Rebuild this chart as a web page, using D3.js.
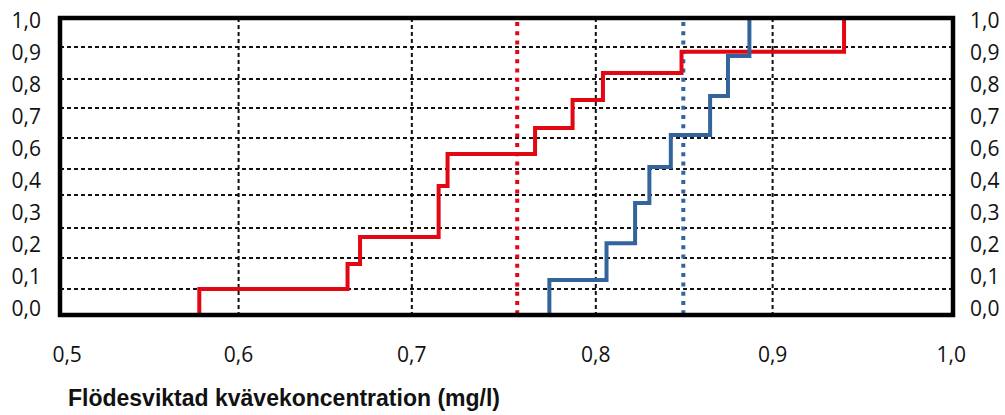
<!DOCTYPE html>
<html>
<head>
<meta charset="utf-8">
<script src="https://cdn.jsdelivr.net/npm/d3@7"></script>
<style>
  body { margin: 0; background: #fff; }
  .tick-label { font-family: "Open Sans", "Noto Sans", sans-serif; font-size: 21px; fill: #111; }
  .title { font-family: "Liberation Sans", Arial, sans-serif; font-size: 23px; font-weight: bold; fill: #111; }
</style>
</head>
<body>
<svg id="chart" width="1005" height="415"></svg>
<script>
// red step series (cumulative share at each concentration)
var redX = [0.578, 0.661, 0.668, 0.712, 0.717, 0.766, 0.787, 0.804, 0.848, 0.939];
var redY = [0.0875, 0.172, 0.263, 0.434, 0.542, 0.630, 0.724, 0.815, 0.886, 1.0];

// blue step series
var blueX = [0.774, 0.806, 0.822, 0.830, 0.842, 0.864, 0.874, 0.886];
var blueY = [0.118, 0.242, 0.377, 0.498, 0.606, 0.737, 0.872, 1.0];

// mean lines (dotted)
var redMean = 0.756;
var blueMean = 0.849;

// grid positions as drawn in the original
var gridX = [0.6, 0.697, 0.8, 0.899];
var gridY = [0.0875, 0.192, 0.293, 0.404, 0.492, 0.596, 0.697, 0.795, 0.902];

// tick labels
var xTickVals = [0.504, 0.6, 0.697, 0.8, 0.899, 0.999];
var xTickLabels = ["0,5", "0,6", "0,7", "0,8", "0,9", "1,0"];
var yTickLabels = ["0,0", "0,1", "0,2", "0,3", "0,4", "0,6", "0,7", "0,8", "0,9", "1,0"];

var xTitle = "Flödesviktad kvävekoncentration (mg/l)";

var svg = d3.select("#chart");

var x = d3.scaleLinear()
    .domain([0.5, 1.0])
    .range([60, 953]);

var y = d3.scaleLinear()
    .domain([0, 1])
    .range([315, 18]);

// labels on the y side sit on their own even spacing
var yLab = d3.scalePoint()
    .domain(yTickLabels)
    .range([308, 20]);

var red = "#e30613",
    blue = "#33659c";

// grid
svg.append("g")
    .selectAll("line")
    .data(gridY)
    .enter().append("line")
    .attr("x1", x(0.5))
    .attr("x2", x(1.0))
    .attr("y1", function(d) { return y(d); })
    .attr("y2", function(d) { return y(d); })
    .style("stroke", "#111")
    .style("stroke-width", 2)
    .style("stroke-dasharray", "4,3");

svg.append("g")
    .selectAll("line")
    .data(gridX)
    .enter().append("line")
    .attr("x1", function(d) { return x(d); })
    .attr("x2", function(d) { return x(d); })
    .attr("y1", y(1))
    .attr("y2", y(0))
    .style("stroke", "#111")
    .style("stroke-width", 2)
    .style("stroke-dasharray", "4,3");

// dotted mean lines
svg.selectAll(".mean")
    .data([{v: redMean, c: red}, {v: blueMean, c: blue}])
    .enter().append("line")
    .attr("class", "mean")
    .attr("x1", function(d) { return x(d.v); })
    .attr("x2", function(d) { return x(d.v); })
    .attr("y1", y(1) + 4)
    .attr("y2", y(0))
    .style("stroke", function(d) { return d.c; })
    .style("stroke-width", 4)
    .style("stroke-dasharray", "4,5.3");

// step lines
var step = d3.line()
    .x(function(d) { return x(d[0]); })
    .y(function(d) { return y(d[1]); })
    .curve(d3.curveStepAfter);

function stepPoints(xs, ys) {
    var pts = [[xs[0], 0]];
    xs.forEach(function(v, i) { pts.push([v, ys[i]]); });
    return pts;
}

svg.append("path")
    .attr("d", step(stepPoints(redX, redY)))
    .style("fill", "none")
    .style("stroke", red)
    .style("stroke-width", 4);

svg.append("path")
    .attr("d", step(stepPoints(blueX, blueY)))
    .style("fill", "none")
    .style("stroke", blue)
    .style("stroke-width", 4);

// frame
svg.append("rect")
    .attr("x", x(0.5))
    .attr("y", y(1))
    .attr("width", x(1.0) - x(0.5))
    .attr("height", y(0) - y(1))
    .style("fill", "none")
    .style("stroke", "#000")
    .style("stroke-width", 4.5);

// y labels, both sides
svg.append("g")
    .selectAll("text")
    .data(yTickLabels)
    .enter().append("text")
    .attr("class", "tick-label")
    .attr("x", 41)
    .attr("y", function(d) { return yLab(d); })
    .attr("dy", "0.36em")
    .style("text-anchor", "end")
    .text(function(d) { return d; });

svg.append("g")
    .selectAll("text")
    .data(yTickLabels)
    .enter().append("text")
    .attr("class", "tick-label")
    .attr("x", 970)
    .attr("y", function(d) { return yLab(d); })
    .attr("dy", "0.36em")
    .style("text-anchor", "start")
    .text(function(d) { return d; });

// x labels
svg.append("g")
    .selectAll("text")
    .data(xTickVals)
    .enter().append("text")
    .attr("class", "tick-label")
    .attr("x", function(d) { return x(d); })
    .attr("y", 362)
    .style("text-anchor", "middle")
    .text(function(d, i) { return xTickLabels[i]; });

svg.append("text")
    .attr("class", "title")
    .attr("x", 68)
    .attr("y", 406)
    .text(xTitle);
</script>
</body>
</html>
